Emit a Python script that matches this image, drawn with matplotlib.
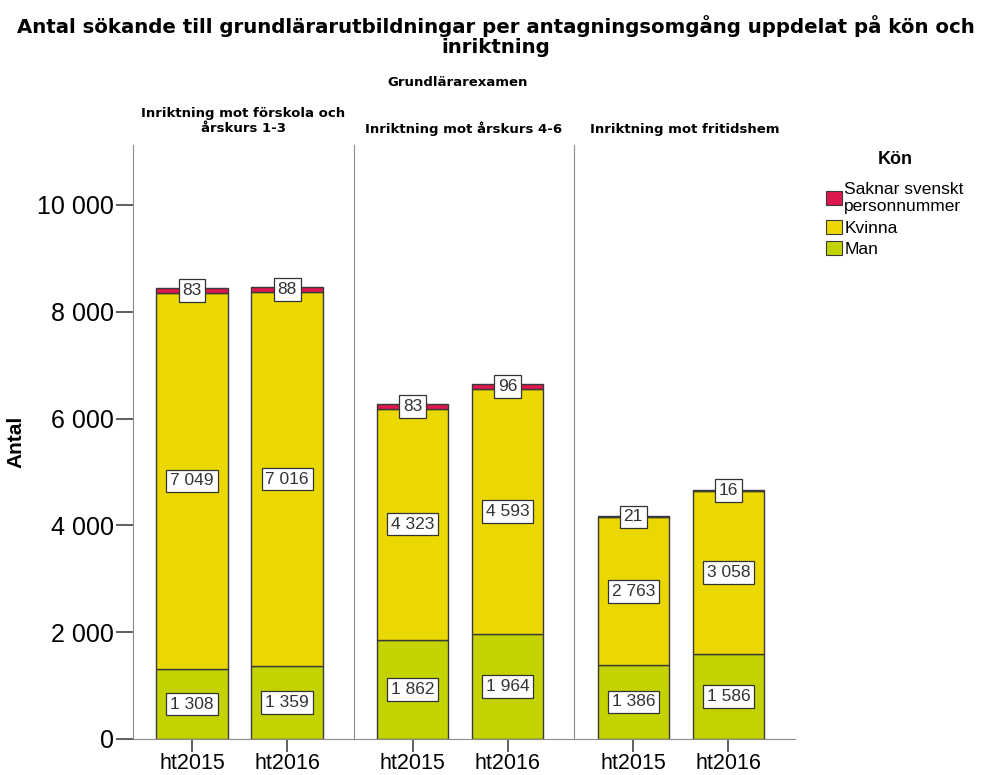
import matplotlib.pyplot as plt
from matplotlib.patches import Patch
from matplotlib.ticker import FuncFormatter

# data
panels = ["Inriktning mot förskola och\nårskurs 1-3", "Inriktning mot årskurs 4-6", "Inriktning mot fritidshem"]
rounds = ["ht2015", "ht2016"]
man = [[1308, 1359], [1862, 1964], [1386, 1586]]
kvinna = [[7049, 7016], [4323, 4593], [2763, 3058]]
saknar = [[83, 88], [83, 96], [21, 16]]

series_names = ["Man", "Kvinna", "Saknar svenskt\npersonnummer"]
colors = ["#C3D300", "#EAD800", "#DE184C"]

plt.rcParams['font.family'] = ['Liberation Sans', 'DejaVu Sans']

fig = plt.figure(figsize=(9.97, 7.75), dpi=100)
left, right, bottom, top = 133 / 997, 795 / 997, 1 - 739 / 775, 1 - 145 / 775
w = (right - left) / 3
axes = [fig.add_axes([left + i * w, bottom, w, top - bottom]) for i in range(3)]

fmt = FuncFormatter(lambda v, p: f"{int(v):,}".replace(",", " "))
x = [0, 1]

for i, ax in enumerate(axes):
    base = [0, 0]
    for vals, col in zip([man[i], kvinna[i], saknar[i]], colors):
        ax.bar(x, vals, width=0.75, bottom=base, color=col, edgecolor="#3a3a3a", linewidth=1.0, zorder=2)
        for xi, v, b in zip(x, vals, base):
            ax.text(xi, b + v / 2, f"{v:,}".replace(",", " "), ha="center", va="center",
                    fontsize=12.5, color="#333333", zorder=4,
                    bbox=dict(boxstyle="square,pad=0.22", fc="white", ec="#333333", lw=0.9))
        base = [b + v for b, v in zip(base, vals)]

    ax.set_xlim(-0.62, 1.70)
    ax.set_ylim(0, 11121)
    ax.set_xticks(x)
    ax.set_xticklabels(rounds, fontsize=15.5)
    ax.tick_params(axis="x", length=9, width=1.2, color="#444444", pad=1)
    for s in ["top", "right"]:
        ax.spines[s].set_visible(False)
    ax.spines["left"].set_color("#8c8c8c")
    ax.spines["bottom"].set_color("#8c8c8c")
    ax.set_title(panels[i], fontsize=9.5, fontweight="bold", family="DejaVu Sans", pad=9)
    if i == 0:
        ax.yaxis.set_major_formatter(fmt)
        ax.set_yticks([0, 2000, 4000, 6000, 8000, 10000])
        ax.tick_params(axis="y", labelsize=18, length=12, width=1.2, color="#444444", pad=2)
        ax.set_ylabel("Antal", fontsize=15, fontweight="bold", labelpad=8)
    else:
        ax.set_yticks([])

fig.text(0.497, 1 - 15 / 775, "Antal sökande till grundlärarutbildningar per antagningsomgång uppdelat på kön och\ninriktning",
         ha="center", va="top", fontsize=14.2, fontweight="bold", family="DejaVu Sans", linespacing=1.05)
fig.text(458 / 997, 1 - 82 / 775, "Grundlärarexamen", ha="center", va="center",
         fontsize=9.5, fontweight="bold", family="DejaVu Sans")

handles = [Patch(facecolor=c, edgecolor="#3a3a3a", linewidth=0.8) for c in colors[::-1]]
leg = fig.legend(handles, series_names[::-1], loc="upper left", bbox_to_anchor=(814 / 997, 1 - 139 / 775),
                 frameon=False, fontsize=12.5, title="Kön", title_fontsize=13,
                 handlelength=0.9, handleheight=0.9, handletextpad=0.15, labelspacing=0.3,
                 borderpad=0.2)
leg.get_title().set_fontweight("bold")
leg._legend_box.sep = 10

fig.savefig("out.png", dpi=100)
